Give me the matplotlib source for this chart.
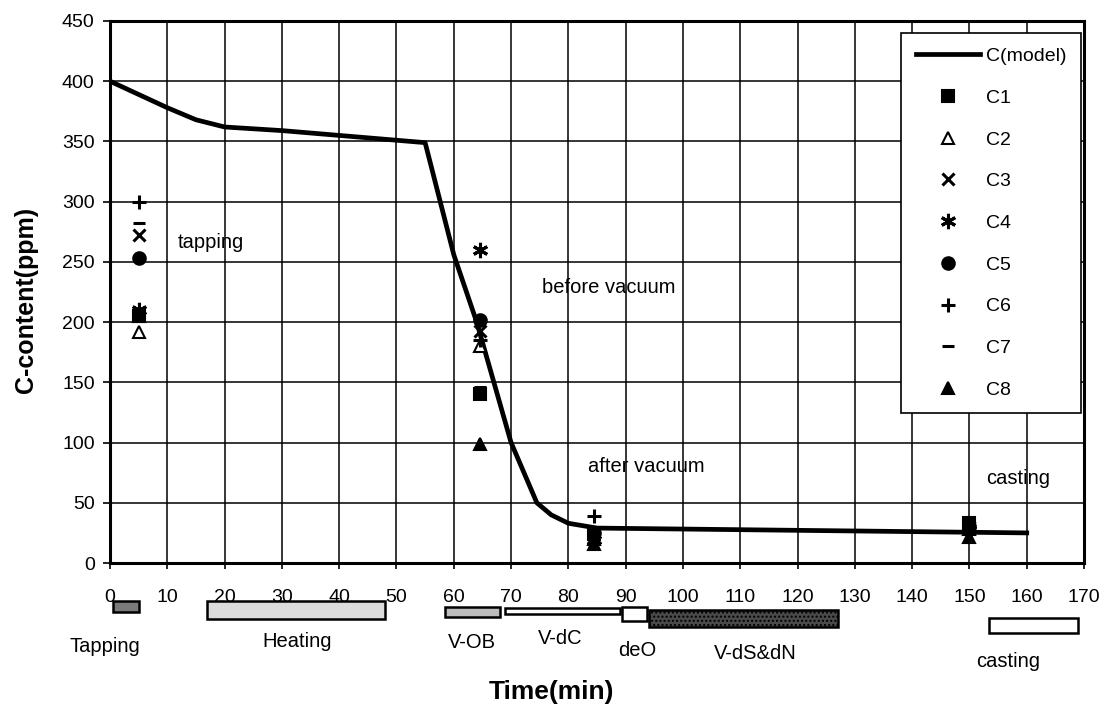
import matplotlib
matplotlib.use("Agg")
import matplotlib.pyplot as plt
from matplotlib.patches import Rectangle

plt.rcParams["font.family"] = ["Liberation Sans", "DejaVu Sans"]

# model curve
model_t = [0, 5, 10, 15, 20, 30, 40, 50, 55, 60, 64, 67, 70, 74.5, 77, 80, 85, 160]
model_c = [400, 389, 378, 368, 362, 359, 355, 351, 349, 256, 200, 150, 100, 50, 40, 33, 29, 25]

# measured samples (tapping, before vacuum, after vacuum, casting)
sample_t = [5, 64.5, 84.5, 150]
c1 = [205, 140, 24, 33]
c2 = [192, 180, 20, 28]
c3 = [272, 193, 22, 30]
c4 = [210, 260, 19, 27]
c5 = [253, 202, 25, 31]
c6 = [300, 185, 39, 29]
c7 = [282, 146, 28, 35]
c8 = [205, 99, 16, 22]

series_names = ["C1", "C2", "C3", "C4", "C5", "C6", "C7", "C8"]
series_values = [c1, c2, c3, c4, c5, c6, c7, c8]
series_markers = ["s", "^", "x", (6, 2, 0), "o", "+", "_", "^"]
series_faces = ["black", "white", "black", "black", "black", "black", "black", "black"]
series_sizes = [8, 8, 9, 11, 9, 10, 8, 9]

# process stages below the time axis
stage_names = ["Tapping", "Heating", "V-OB", "V-dC", "deO", "V-dS&dN", "casting"]
stage_start = [0.5, 17, 58.5, 69, 89.4, 94, 153.4]
stage_end = [5, 48, 68, 89, 93.7, 127, 169]
stage_top = [-31.6, -31.6, -36.5, -37.4, -36.5, -39, -45.7]
stage_bottom = [-40.7, -46.5, -44.9, -42.4, -48.2, -53, -58]
stage_fill = ["#7a7a7a", "#dcdcdc", "#bdbdbd", "white", "white", "#4a4a4a", "white"]
stage_label_x = [-0.9, 32.6, 63.2, 78.5, 92, 112.6, 156.7]
stage_label_y = [-69, -64.8, -66.4, -62.3, -73, -74.8, -81.4]

# phase notes inside the plot
note_text = ["tapping", "before vacuum", "after vacuum", "casting"]
note_x = [11.9, 75.4, 83.4, 153]
note_y = [266, 229, 80, 70]

fig = plt.figure(figsize=(11.1, 7.09), dpi=100)
ax = fig.add_axes([0.0991, 0.2059, 0.8775, 0.7645])

ax.plot(model_t, model_c, color="black", linewidth=3.4, label="C(model)", zorder=3,
        solid_joinstyle="round")

for name, vals, mk, fc, ms in zip(series_names, series_values, series_markers,
                                  series_faces, series_sizes):
    thick = mk in ("x", "+", "_", (6, 2, 0))
    ax.plot(sample_t, vals, linestyle="none", marker=mk, markersize=ms,
            markerfacecolor=fc, markeredgecolor="black",
            markeredgewidth=2.2 if thick else 1.5,
            color="black", label=name, zorder=4)

ax.set_xlim(0, 170)
ax.set_ylim(0, 450)
ax.set_xticks(range(0, 171, 10))
ax.set_yticks(range(0, 451, 50))
ax.grid(True, color="black", linewidth=1.1)
ax.set_axisbelow(True)
for sp in ax.spines.values():
    sp.set_linewidth(2.2)

ax.tick_params(axis="x", direction="out", length=4, width=1.2, pad=15, labelsize=14)
ax.tick_params(axis="y", direction="out", length=5, width=1.2, pad=6, labelsize=14)

for txt, x, y in zip(note_text, note_x, note_y):
    ax.text(x, y, txt, fontsize=14.5, ha="left", va="center")

for name, x0, x1, y0, y1, fc, lx, ly in zip(stage_names, stage_start, stage_end, stage_top,
                                           stage_bottom, stage_fill, stage_label_x, stage_label_y):
    rect = Rectangle((x0, y1), x1 - x0, y0 - y1, facecolor=fc, edgecolor="black",
                     linewidth=1.8, clip_on=False, hatch="...." if fc == "#4a4a4a" else None)
    ax.add_patch(rect)
    ax.text(lx, ly, name, fontsize=14.5, ha="center", va="center", clip_on=False)

ax.set_xlabel("Time(min)", fontsize=19, fontweight="bold")
ax.xaxis.set_label_coords(0.453, -0.216)
ax.set_ylabel("C-content(ppm)", fontsize=18, fontweight="bold")
ax.yaxis.set_label_coords(-0.074, 0.485)

leg = ax.legend(loc="upper right", bbox_to_anchor=(0.997, 0.978), borderaxespad=0,
                fontsize=14, frameon=True, fancybox=False, framealpha=1,
                edgecolor="black", labelspacing=1.24, handlelength=3.3,
                borderpad=0.75, handletextpad=0.3)
leg.get_frame().set_linewidth(1.2)

fig.savefig("out.png", dpi=100)
